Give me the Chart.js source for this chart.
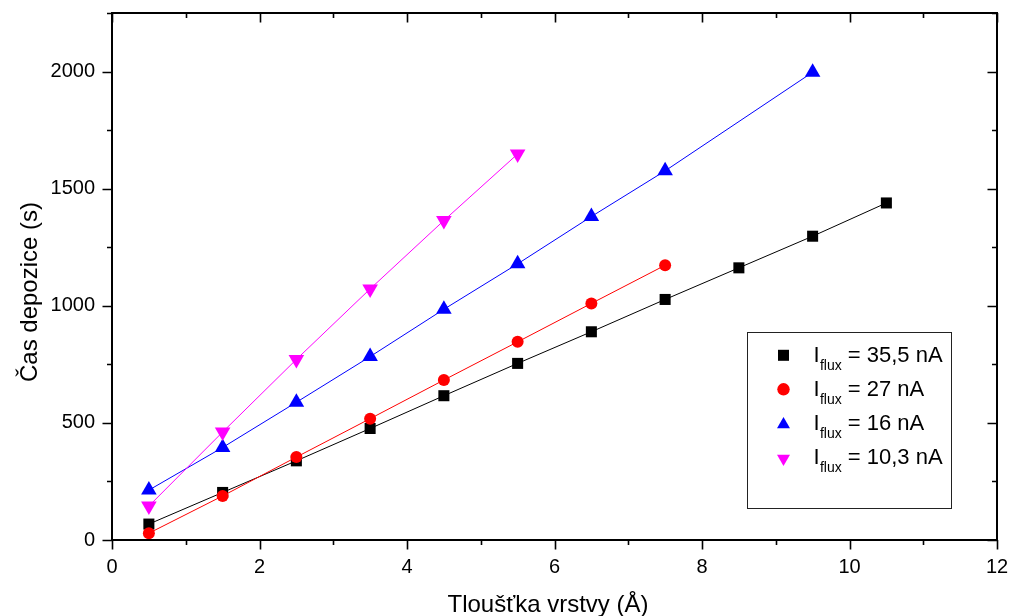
<!DOCTYPE html>
<html><head><meta charset="utf-8">
<script src="https://cdn.jsdelivr.net/npm/chart.js@4"></script>
<style>html,body{margin:0;padding:0;background:#fff}canvas{display:block}</style>
</head><body>
<canvas id="c" width="1010" height="616"></canvas>
<script>
// ---- data ----
const xTitle = 'Tloušťka vrstvy (Å)';
const yTitle = 'Čas depozice (s)';
const seriesNames = ['= 35,5 nA', '= 27 nA', '= 16 nA', '= 10,3 nA'];
const xTickValues = [0, 2, 4, 6, 8, 10, 12];
const yTickValues = [0, 500, 1000, 1500, 2000];

const thickness355 = [0.5, 1.5, 2.5, 3.5, 4.5, 5.5, 6.5, 7.5, 8.5, 9.5, 10.5];
const time355      = [68, 203, 338, 476, 616, 754, 889, 1027, 1162, 1297, 1439];

const thickness27  = [0.5, 1.5, 2.5, 3.5, 4.5, 5.5, 6.5, 7.5];
const time27       = [29, 188, 354, 518, 683, 846, 1010, 1173];

const thickness16  = [0.5, 1.5, 2.5, 3.5, 4.5, 5.5, 6.5, 7.5, 9.5];
const time16       = [213, 395, 588, 783, 985, 1179, 1381, 1576, 1997];

const thickness103 = [0.5, 1.5, 2.5, 3.5, 4.5, 5.5];
const time103      = [145, 461, 771, 1072, 1364, 1648];

// ---- styles ----
const FONT = '"Liberation Sans", Arial, Helvetica, sans-serif';
const styles = [
  { color: '#000000', pointStyle: 'rect', radius: 7.8, rotation: 0, legendRadius: 7.8 },
  { color: '#ff0000', pointStyle: 'circle', radius: 6, rotation: 0, legendRadius: 6.2 },
  { color: '#0000ff', pointStyle: 'triangle', radius: 9, rotation: 0, legendRadius: 7.5 },
  { color: '#ff00ff', pointStyle: 'triangle', radius: 9, rotation: 180, legendRadius: 7.5 }
];
const xs = [thickness355, thickness27, thickness16, thickness103];
const ys = [time355, time27, time16, time103];

const datasets = xs.map((xv, i) => ({
  label: 'I flux ' + seriesNames[i],
  data: xv.map((x, j) => ({ x: x, y: ys[i][j] })),
  showLine: true,
  borderColor: styles[i].color,
  backgroundColor: styles[i].color,
  borderWidth: 1,
  pointStyle: styles[i].pointStyle,
  pointRotation: styles[i].rotation,
  pointRadius: styles[i].radius,
  pointHoverRadius: styles[i].radius,
  pointBorderWidth: 0,
  pointHoverBorderWidth: 0,
  order: 4 - i
}));

const framePlugin = {
  id: 'frame',
  afterDatasetsDraw(chart) {
    const { ctx, chartArea: a, scales } = chart;
    const sx = scales.x, sy = scales.y;
    ctx.save();
    ctx.strokeStyle = '#000';
    ctx.lineWidth = 1.6;
    ctx.beginPath();
    for (let v = 0; v <= 12; v += 1) {
      const px = Math.round(sx.getPixelForValue(v)) + 0.5;
      const len = v % 2 === 0 ? 9.5 : 5;
      ctx.moveTo(px, a.bottom); ctx.lineTo(px, a.bottom + len);
      ctx.moveTo(px, a.top); ctx.lineTo(px, a.top + len);
    }
    for (let v = 0; v <= 2250; v += 250) {
      const py = Math.round(sy.getPixelForValue(v)) + 0.5;
      const len = v % 500 === 0 ? 9.5 : 5;
      ctx.moveTo(a.left - len, py); ctx.lineTo(a.left, py);
      ctx.moveTo(a.right - len, py); ctx.lineTo(a.right, py);
    }
    ctx.stroke();
    ctx.lineWidth = 2;
    ctx.strokeRect(a.left, a.top, a.right - a.left, a.bottom - a.top);

    // axis titles
    ctx.fillStyle = '#000';
    ctx.font = '24px ' + FONT;
    ctx.textAlign = 'center';
    ctx.textBaseline = 'alphabetic';
    ctx.fillText(xTitle, 548, 612);
    ctx.save();
    ctx.translate(37, 292);
    ctx.rotate(-Math.PI / 2);
    ctx.fillText(yTitle, 0, 0);
    ctx.restore();

    // legend
    ctx.lineWidth = 1;
    ctx.strokeStyle = '#222';
    ctx.strokeRect(747.5, 332.5, 204, 176);
    const baselines = [362, 396, 430, 464.3];
    const markerY = [355.3, 389.3, 424.5, 458.5];
    for (let i = 0; i < 4; i++) {
      const s = styles[i];
      ctx.fillStyle = s.color;
      Chart.helpers.drawPoint(ctx, { pointStyle: s.pointStyle, rotation: s.rotation, radius: s.legendRadius, borderWidth: 0 }, 783.5, markerY[i]);
      ctx.fillStyle = '#000';
      ctx.textAlign = 'left';
      let x0 = 813.5;
      ctx.font = '22px ' + FONT;
      ctx.fillText('I', x0, baselines[i]);
      x0 += ctx.measureText('I').width;
      ctx.font = '14px ' + FONT;
      ctx.fillText('flux', x0 + 0.3, baselines[i] + 8);
      x0 += ctx.measureText('flux').width + 0.3;
      ctx.font = '22px ' + FONT;
      ctx.fillText(' ' + seriesNames[i], x0, baselines[i]);
    }
    ctx.restore();
  }
};

new Chart(document.getElementById('c'), {
  type: 'scatter',
  data: { datasets: datasets },
  options: {
    responsive: false,
    animation: false,
    events: [],
    layout: { padding: { left: 0, top: 13, right: 13, bottom: 0 } },
    plugins: { legend: { display: false }, tooltip: { enabled: false }, title: { display: false } },
    scales: {
      x: {
        type: 'linear', min: 0, max: 12,
        afterBuildTicks(s) { s.ticks = xTickValues.map(v => ({ value: v })); },
        ticks: { color: '#000', padding: 15, font: { size: 20, family: FONT }, maxRotation: 0, autoSkip: false,
                 callback: v => String(v) },
        grid: { display: false, drawTicks: false },
        border: { display: false },
        afterFit(s) { s.height = 76; s.paddingLeft = 0; s.paddingRight = 0; }
      },
      y: {
        type: 'linear', min: 0, max: 2250,
        afterBuildTicks(s) { s.ticks = yTickValues.map(v => ({ value: v })); },
        ticks: { color: '#000', padding: 17, font: { size: 20, family: FONT }, autoSkip: false,
                 callback: v => String(v) },
        grid: { display: false, drawTicks: false },
        border: { display: false },
        afterFit(s) { s.width = 112; s.paddingTop = 0; s.paddingBottom = 0; }
      }
    }
  },
  plugins: [framePlugin]
});
</script>
</body></html>
